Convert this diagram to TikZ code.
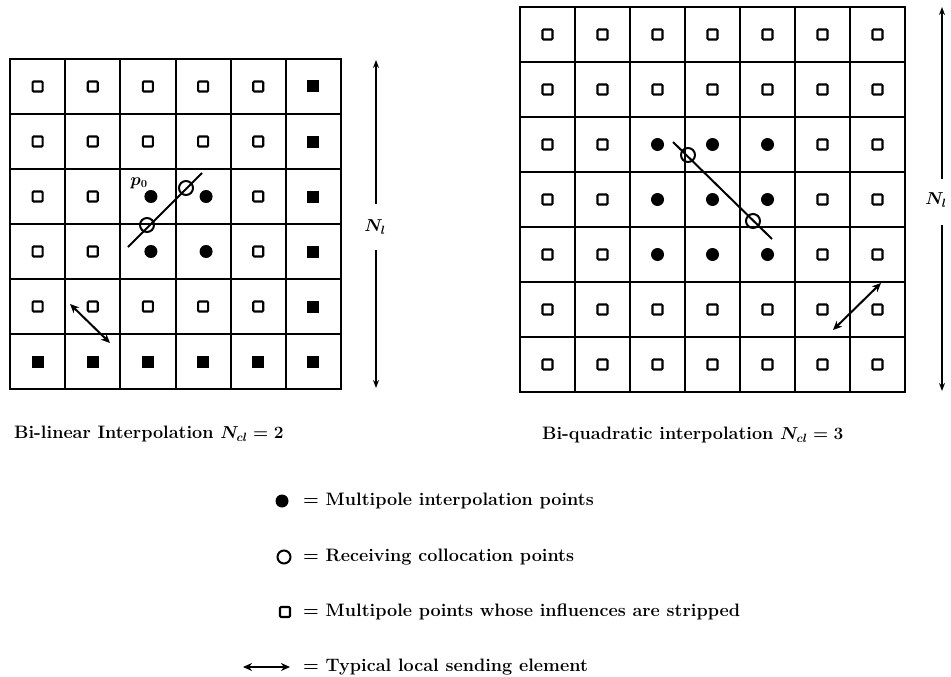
\documentclass[tikz,border=0pt]{standalone}
\usetikzlibrary{arrows.meta}
\begin{document}
\begin{tikzpicture}[x=1pt,y=-1pt,
  gridline/.style={line width=1.9pt},
  osq/.style={draw, line width=2.1pt, minimum size=10pt, inner sep=0pt, rounded corners=1pt, fill=white},
  fsq/.style={draw, fill=black, line width=1pt, minimum size=11pt, inner sep=0pt},
  fdot/.style={circle, fill=black, minimum size=13pt, inner sep=0pt},
  ocirc/.style={circle, draw, line width=2pt, minimum size=14pt, inner sep=0pt},
  seg/.style={line width=2pt},
  dbl/.style={line width=2pt, {Stealth[length=9pt,width=8pt]}-{Stealth[length=9pt,width=8pt]}},
  dimtip/.style={line width=1.7pt, -{Stealth[length=8pt,width=6pt]}},
  lbl/.style={font=\fontsize{18}{21}\selectfont\bfseries\boldmath, inner sep=0pt},
]
\path[use as bounding box] (0,0) rectangle (951,677);

% ---------- left grid ----------
\draw[gridline] (10,59) rectangle (341,389);
\foreach \xx in {65,120,176,231,286} {
  \draw[gridline] (\xx,59) -- (\xx,389);
}
\foreach \yy in {114,169,224,279,334} {
  \draw[gridline] (10,\yy) -- (341,\yy);
}
\foreach \c in {1,...,6} \foreach \r in {1,...,6} {
  \pgfmathsetmacro\xx{10+(\c-0.5)*331/6}
  \pgfmathsetmacro\yy{59+(\r-0.5)*55}
  \pgfmathtruncatemacro\kind{(\c==6 || \r==6) ? 1 : ((\c>=3 && \c<=4 && \r>=3 && \r<=4) ? 2 : 0)}
  \ifcase\kind
    \node[osq] (L-\c-\r) at (\xx,\yy) {};
  \or
    \node[fsq] (L-\c-\r) at (\xx,\yy) {};
  \or
    \node[fdot] (L-\c-\r) at (\xx+3,\yy) {};
  \fi
}
\coordinate (La) at (128,247);
\coordinate (Lb) at (202,173);
\draw[seg] (La) -- (Lb);
\node[ocirc] (Lc1) at (147,225) {};
\node[ocirc] (Lc2) at (186,188) {};
\node[font=\fontsize{16}{18}\selectfont\boldmath, inner sep=0pt] (p0) at (139,183) {$p_0$};
\coordinate (Ls1) at (70,304);
\coordinate (Ls2) at (110,343);
\draw[dbl] (Ls1) -- (Ls2);

% N_l left
\node[lbl] (NL) at (375,227) {$N_l$};
\coordinate (NLt) at (376,60);
\coordinate (NLb) at (376,388);
\draw[dimtip] (376,204) -- (NLt);
\draw[dimtip] (376,250) -- (NLb);

% ---------- right grid ----------
\draw[gridline] (520,7) rectangle (905,392);
\foreach \i in {1,...,6} {
  \draw[gridline] ({520+\i*55},7) -- ({520+\i*55},392);
  \draw[gridline] (520,{7+\i*55}) -- (905,{7+\i*55});
}
\foreach \c in {1,...,7} \foreach \r in {1,...,7} {
  \pgfmathsetmacro\xx{520+(\c-0.5)*55}
  \pgfmathsetmacro\yy{7+(\r-0.5)*55}
  \pgfmathtruncatemacro\kind{(\c>=3 && \c<=5 && \r>=3 && \r<=5) ? 2 : 0}
  \ifcase\kind
    \node[osq] (R-\c-\r) at (\xx,\yy) {};
  \or
  \or
    \node[fdot] (R-\c-\r) at (\xx,\yy) {};
  \fi
}
\coordinate (Ra) at (673,142);
\coordinate (Rb) at (772,239);
\draw[seg] (Ra) -- (Rb);
\node[ocirc] (Rc1) at (688,155) {};
\node[ocirc] (Rc2) at (753,221) {};
\coordinate (Rs1) at (833,330);
\coordinate (Rs2) at (881,283);
\draw[dbl] (Rs1) -- (Rs2);

% N_l right
\node[lbl] (NR) at (936,200) {$N_l$};
\coordinate (NRt) at (942,7);
\coordinate (NRb) at (942,391);
\draw[dimtip] (942,179) -- (NRt);
\draw[dimtip] (942,225) -- (NRb);

% ---------- captions ----------
\node[lbl, anchor=west] (capL) at (14,434) {Bi-linear Interpolation $N_{cl} = 2$};
\node[lbl, anchor=west] (capR) at (542,435) {Bi-quadratic interpolation $N_{cl} = 3$};

% ---------- legend ----------
\node[fdot] (k1) at (282,501) {};
\node[ocirc, minimum size=13pt] (k2) at (284,557) {};
\node[osq] (k3) at (285,612) {};
\coordinate (k4a) at (243,667);
\coordinate (k4b) at (290,667);
\draw[dbl] (k4a) -- (k4b);

\node[lbl, anchor=west] (t1) at (303,501) {= Multipole interpolation points};
\node[lbl, anchor=west] (t2) at (303,557) {= Receiving collocation points};
\node[lbl, anchor=west] (t3) at (303,612) {= Multipole points whose influences are stripped};
\node[lbl, anchor=west] (t4) at (303,667) {= Typical local sending element};
\end{tikzpicture}
\end{document}
